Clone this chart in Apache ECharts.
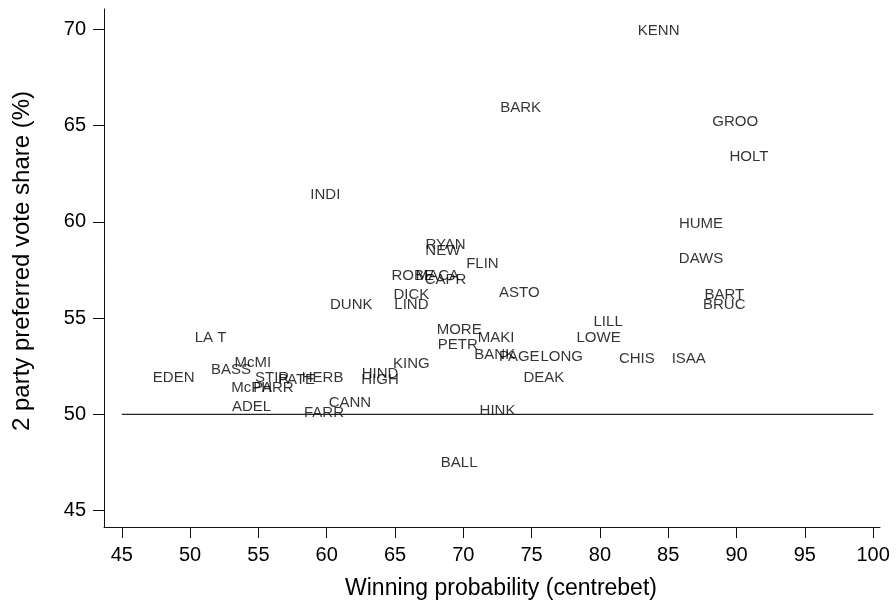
<!DOCTYPE html>
<html>
<head>
<meta charset="utf-8">
<script src="https://cdn.jsdelivr.net/npm/echarts@6/dist/echarts.min.js"></script>
<style>
html,body{margin:0;padding:0;background:#fff;}
#chart{width:896px;height:605px;}
</style>
</head>
<body>
<div id="chart"></div>
<script>
// Seat labels and their coordinates (winning probability, 2PP vote share)
var seats = ["KENN","BARK","GROO","HOLT","INDI","HUME","DAWS","BART","BRUC","RYAN","NEW","FLIN","ROBE","MACA","CAPR","DICK","LIND","ASTO","DUNK","MORE","PETR","MAKI","BANK","PAGE","LONG","DEAK","KING","LILL","LOWE","CHIS","ISAA","LA T","EDEN","BASS","McMI","STIR","PATE","HERB","McPH","PARR","ADEL","FARR","CANN","HIND","HIGH","HINK","BALL"];
var winProb = [84.3,74.2,89.9,90.9,59.9,87.4,87.4,89.1,89.1,68.7,68.5,71.4,66.3,68.1,68.7,66.2,66.2,74.1,61.8,69.7,69.6,72.4,72.3,74.1,77.2,75.9,66.2,80.6,79.9,82.7,86.5,51.5,48.8,53.0,54.6,56.0,57.8,59.7,54.5,56.1,54.5,59.8,61.7,63.9,63.9,72.5,69.7];
var voteShare = [69.9,65.9,65.2,63.4,61.4,59.9,58.1,56.2,55.7,58.8,58.5,57.8,57.2,57.2,57.0,56.2,55.7,56.3,55.7,54.4,53.6,54.0,53.1,53.0,53.0,51.9,52.6,54.8,54.0,52.9,52.9,54.0,51.9,52.3,52.7,51.9,51.8,51.9,51.4,51.4,50.4,50.1,50.6,52.1,51.8,50.2,47.5];
var xTicks = [45,50,55,60,65,70,75,80,85,90,95,100];
var yTicks = [45,50,55,60,65,70];
var refLineX = [45,100];
var refLineY = [50,50];

var pts = seats.map(function(n,i){ return {name:n, value:[winProb[i], voteShare[i]]}; });
var refPts = refLineX.map(function(x,i){ return [x, refLineY[i]]; });

var font = "'Liberation Sans', Arial, Helvetica, sans-serif";
var chart = echarts.init(document.getElementById('chart'), null, {renderer:'canvas'});
chart.setOption({
  animation:false,
  backgroundColor:'#fff',
  grid:{left:104, right:16, top:9, bottom:77, containLabel:false},
  xAxis:{
    type:'value', min:43.7, max:100.5,
    name:'Winning probability (centrebet)', nameLocation:'middle', nameGap:50,
    nameTextStyle:{fontFamily:font, fontSize:23, color:'#000', padding:[0,0,0,18]},
    axisLine:{show:true, onZero:false, lineStyle:{color:'#111', width:1}},
    axisTick:{show:true, length:11, customValues:xTicks, lineStyle:{color:'#111'}},
    axisLabel:{customValues:xTicks, margin:18, fontFamily:font, fontSize:20, color:'#000'},
    splitLine:{show:false}
  },
  yAxis:{
    type:'value', min:44.15, max:71.06,
    name:'2 party preferred vote share (%)', nameLocation:'middle', nameGap:70,
    nameTextStyle:{fontFamily:font, fontSize:24, color:'#000', padding:[0,0,0,14]},
    axisLine:{show:true, onZero:false, lineStyle:{color:'#111', width:1}},
    axisTick:{show:true, length:11, customValues:yTicks, lineStyle:{color:'#111'}},
    axisLabel:{customValues:yTicks, margin:18, fontFamily:font, fontSize:20, color:'#000'},
    splitLine:{show:false}
  },
  series:[
    {
      type:'line', data:refPts, symbol:'none', silent:true,
      lineStyle:{color:'#222', width:1.2}
    },
    {
      type:'scatter', data:pts, symbolSize:1,
      itemStyle:{color:'rgba(0,0,0,0)'},
      label:{show:true, position:'inside', offset:[0,2], formatter:function(p){return p.name;},
        fontFamily:font, fontSize:15, color:'#000'},
      labelLayout:{hideOverlap:false}
    }
  ]
});
</script>
</body>
</html>
